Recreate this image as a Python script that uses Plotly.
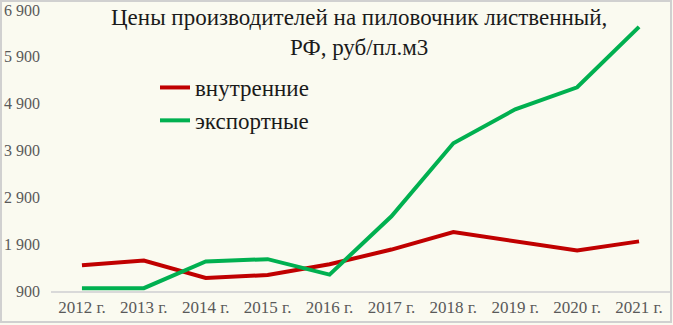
import plotly.graph_objects as go

years = ["2012 г.", "2013 г.", "2014 г.", "2015 г.", "2016 г.",
         "2017 г.", "2018 г.", "2019 г.", "2020 г.", "2021 г."]
domestic = [1450, 1550, 1180, 1240, 1470, 1785, 2160, 1960, 1765, 1960]
export = [960, 960, 1530, 1580, 1250, 2495, 4055, 4780, 5250, 6540]
y_ticks = [900, 1900, 2900, 3900, 4900, 5900, 6900]
y_tick_labels = ["900", "1 900", "2 900", "3 900", "4 900", "5 900", "6 900"]

FONT = "'Liberation Serif', 'Times New Roman', serif"
W, H = 673, 325
ML, MR, MT, MB = 51, 3, 10, 34
PW, PH = W - ML - MR, H - MT - MB


def px(x):
    return (x - ML) / PW


def py(y):
    return 1 - (y - MT) / PH


fig = go.Figure()
fig.add_trace(go.Scatter(x=years, y=domestic, name="внутренние", mode="lines",
                         line=dict(color="#C00000", width=4)))
fig.add_trace(go.Scatter(x=years, y=export, name="экспортные", mode="lines",
                         line=dict(color="#00B050", width=4)))

fig.update_layout(
    width=W, height=H,
    margin=dict(l=ML, r=MR, t=MT, b=MB),
    paper_bgcolor="#FAFAF0",
    plot_bgcolor="rgba(0,0,0,0)",
    font=dict(family=FONT, color="#595959", size=16),
    showlegend=True,
    legend=dict(x=px(155), y=py(66), xanchor="left", yanchor="top",
                bgcolor="rgba(0,0,0,0)", tracegroupgap=0,
                font=dict(family=FONT, size=23, color="#1A1A1A")),
    xaxis=dict(type="category", range=[-0.5, len(years) - 0.5],
               showgrid=False, showline=True,
               linecolor="#D9D9D9", linewidth=1.5, ticks="",
               ticklabelstandoff=0, tickfont=dict(family=FONT, size=17, color="#595959")),
    yaxis=dict(range=[900, 6900], tickvals=y_ticks, ticktext=y_tick_labels,
               showgrid=False, zeroline=False, showline=False, ticks="",
               ticklabelstandoff=10, tickfont=dict(family=FONT, size=16, color="#595959")),
    annotations=[dict(text="Цены производителей на пиловочник лиственный,<br>РФ, руб/пл.м3",
                      xref="paper", yref="paper", x=px(359), y=py(3),
                      xanchor="center", yanchor="top", showarrow=False,
                      align="center",
                      font=dict(family=FONT, size=23, color="#1A1A1A"))],
    shapes=[dict(type="rect", xref="paper", yref="paper",
                 x0=px(1), x1=px(671), y0=py(1), y1=py(322),
                 line=dict(color="#D0D0D0", width=2), fillcolor="rgba(0,0,0,0)",
                 layer="below")],
)

fig.write_html("out.html")
